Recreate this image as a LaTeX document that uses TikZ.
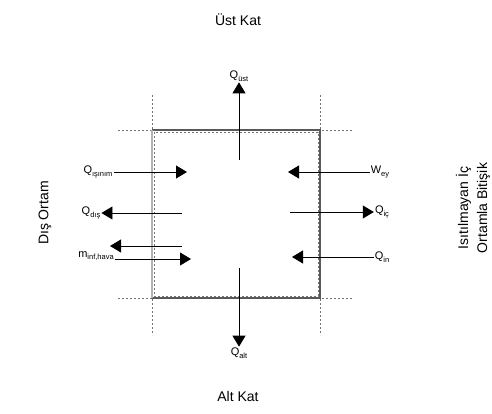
\documentclass[tikz,border=0pt]{standalone}
\usepackage{fontspec}
\setmainfont{Liberation Sans}
\usetikzlibrary{arrows.meta}
\newcommand{\flab}[2]{#1\raisebox{-0.45ex}{\fontsize{7.5}{8}\selectfont #2}}

\begin{document}
\begin{tikzpicture}
    	[x=1pt, y=-1pt,
    	 zone/.style={font=\fontsize{14}{19}\selectfont, inner sep=0pt},
    	 qlab/.style={font=\fontsize{11}{12}\selectfont, inner sep=1pt},
    	 flow/.style={-{Triangle[length=11pt,width=13pt]}, line width=0.8pt},
    	 wall/.style={draw=black!65, line width=1.1pt},
    	 guide/.style={draw=black!55, line width=0.9pt, dash pattern=on 2pt off 2pt}]
    	\useasboundingbox (0,0) rectangle (492,414);

    	% zones round the room
    	\node (ust) at (238,20) [zone] {Üst Kat};
    	\node (alt) at (238,396) [zone] {Alt Kat};
    	\node (dis) at (45,213) [zone, rotate=90] {Dış Ortam};
    	\node (bitisik) at (473,208) [zone, rotate=90, align=center] {Isıtılmayan İç\\Ortamla Bitişik};

    	% walls and guides
    	\draw[guide] (118,130) -- (352,130);
    	\draw[guide] (118,298) -- (352,298);
    	\draw[guide] (152,95) -- (152,335);
    	\draw[guide] (320,95) -- (320,335);
    	\draw[guide] (154,132) rectangle (318,296);
    	\draw[wall] (152,130) -- (320,130) -- (320,298) -- (152,298);
    	\draw[wall, draw=black!30] (152,130) -- (152,298);

    	% labels
    	\node (qust) at (239,76) [qlab] {\flab{Q}{üst}};
    	\node (qalt) at (239,353) [qlab] {\flab{Q}{alt}};
    	\node (qisin) at (98,172) [qlab] {\flab{Q}{ışınım}};
    	\node (qdis) at (91,213) [qlab] {\flab{Q}{dış}};
    	\node (minf) at (96,256) [qlab] {\flab{m}{inf,hava}};
    	\node (wey) at (380,172) [qlab] {\flab{W}{ey}};
    	\node (qic) at (382,212) [qlab] {\flab{Q}{iç}};
    	\node (qin) at (382,257) [qlab] {\flab{Q}{in}};

    	\coordinate (ust-a) at (239,160);
    	\coordinate (alt-a) at (239,268);
    	\coordinate (isin-b) at (187,172);
    	\coordinate (dis-a) at (182,213);
    	\coordinate (geri-a) at (182,246);
    	\coordinate (geri-b) at (110,246);
    	\coordinate (minf-b) at (191,259);
    	\coordinate (wey-b) at (288,172);
    	\coordinate (ic-a) at (290,212);
    	\coordinate (in-b) at (292,257);

    	% heat flows
    	\draw[flow] (ust-a) -- (qust.south);
    	\draw[flow] (alt-a) -- (qalt.north);
    	\draw[flow] (qisin.east) -- (isin-b);
    	\draw[flow] (dis-a) -- (qdis.east);
    	\draw[flow] (geri-a) -- (geri-b);
    	\draw[flow] (minf.east |- minf-b) -- (minf-b);
    	\draw[flow] (wey.west) -- (wey-b);
    	\draw[flow] (ic-a) -- (qic.west);
    	\draw[flow] (qin.west) -- (in-b);
\end{tikzpicture}
\end{document}
